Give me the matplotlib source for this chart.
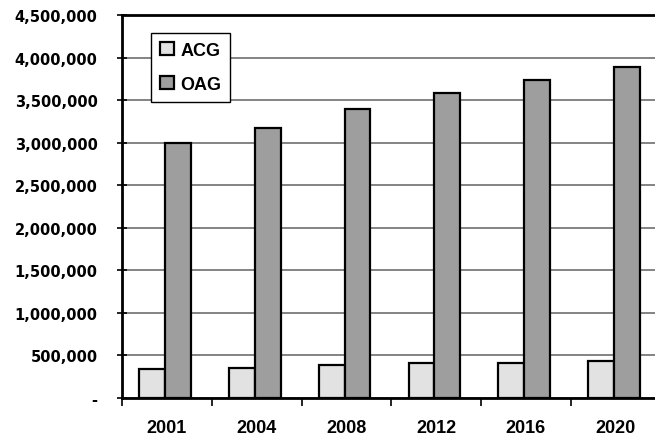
import matplotlib
matplotlib.use("Agg")
import matplotlib.pyplot as plt
import numpy as np
from matplotlib.ticker import FuncFormatter, FixedLocator

years = ["2001", "2004", "2008", "2012", "2016", "2020"]
acg = [338000, 352000, 392000, 410000, 408000, 435000]
oag = [2996000, 3176000, 3395000, 3585000, 3733000, 3886000]
y_ticks = [0, 500000, 1000000, 1500000, 2000000, 2500000, 3000000, 3500000, 4000000, 4500000]

W, H = 655, 439
fig = plt.figure(figsize=(W / 100, H / 100), dpi=100)
ax = fig.add_axes([122 / W, 40 / H, 538.5 / W, 383 / H])

n = len(years)
centers = np.arange(n) + 0.5 - 0.02
bw = 0.287
ax.bar(centers - bw / 2, acg, width=bw, color="#E2E2E2", edgecolor="black", linewidth=1.6, label="ACG", zorder=3)
ax.bar(centers + bw / 2, oag, width=bw, color="#9E9E9E", edgecolor="black", linewidth=1.6, label="OAG", zorder=3)

ax.set_xlim(0, n)
ax.set_ylim(0, 4500000)

# y axis
ax.yaxis.set_major_locator(FixedLocator(y_ticks))
ax.yaxis.set_major_formatter(FuncFormatter(lambda v, p: "-" if v == 0 else f"{int(v):,}"))
ax.tick_params(axis="y", direction="inout", length=7, width=1.2, pad=14, labelsize=10.5)
for lab in ax.get_yticklabels():
    lab.set_fontfamily("DejaVu Sans")
    lab.set_fontweight("bold")
ax.grid(axis="y", color="#6E6E6E", linewidth=1.2, zorder=1)

# x axis: boundary ticks, labels at centers
ax.xaxis.set_major_locator(FixedLocator(np.arange(n + 1)))
ax.set_xticklabels([])
ax.set_xticks(np.arange(n) + 0.5, minor=True)
ax.set_xticklabels(years, minor=True, fontfamily="Liberation Sans", fontweight="bold", fontsize=13)
ax.tick_params(axis="x", which="major", direction="out", length=6, width=1.2)
ax.tick_params(axis="x", which="minor", length=0, pad=15)

for s in ["left", "bottom", "top"]:
    ax.spines[s].set_linewidth(2.0)
    ax.spines[s].set_color("black")
ax.spines["right"].set_visible(False)

leg = ax.legend(loc="upper left", bbox_to_anchor=(0.0539, 0.953), borderaxespad=0,
                prop={"family": "Liberation Sans", "weight": "bold", "size": 13},
                handlelength=0.78, handleheight=0.75, handletextpad=0.35,
                labelspacing=0.95, borderpad=0.5, fancybox=False, framealpha=1,
                edgecolor="black")
leg.get_frame().set_linewidth(1.0)
leg.set_zorder(5)

fig.savefig("out.png", dpi=100)
